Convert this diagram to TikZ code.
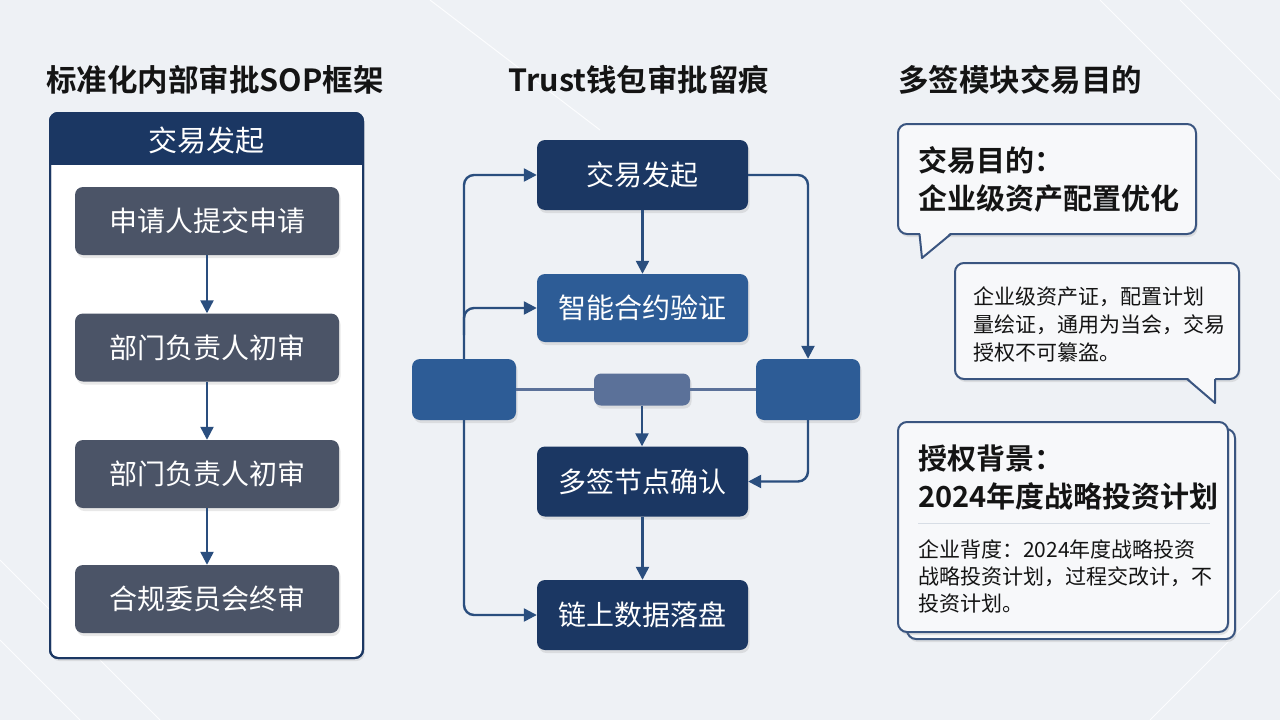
\documentclass[tikz,border=0pt]{standalone}
\usepackage{fontspec}
\setmainfont{Noto Sans CJK SC}[BoldFont={Noto Sans CJK SC Bold}]
\usetikzlibrary{arrows.meta,calc,shadows}
\definecolor{bg}{HTML}{EEF1F5}
\definecolor{navy}{HTML}{1B3763}
\definecolor{mblue}{HTML}{2D5C96}
\definecolor{gbox}{HTML}{4B5467}
\definecolor{lnk}{HTML}{2A4E7E}
\definecolor{sgray}{HTML}{5B7199}
\definecolor{ink}{HTML}{141414}
\definecolor{cborder}{HTML}{3A5580}
\definecolor{cfill}{HTML}{F7F8FA}
\begin{document}
\begin{tikzpicture}[x=1pt,y=-1pt,
  softshadow/.style={drop shadow={opacity=0.18,shadow xshift=1.5pt,shadow yshift=-3pt}},
  flowbox/.style={rounded corners=8pt,text=white,inner sep=0pt,font=\fontsize{28}{32}\selectfont,softshadow},
  graybox/.style={flowbox,fill=gbox,minimum width=264pt,minimum height=68pt},
  navybox/.style={flowbox,fill=navy,minimum width=211pt,minimum height=70pt},
  bluebox/.style={flowbox,fill=mblue,minimum width=211pt,minimum height=68pt},
  blankbox/.style={rounded corners=8pt,fill=mblue,minimum width=104pt,minimum height=61pt,inner sep=0pt,softshadow},
  link/.style={draw=lnk,line width=2.4pt},
  arr/.style={link,-{Triangle[length=13pt,width=13pt]},rounded corners=10pt},
  title/.style={font=\bfseries\fontsize{30.5}{34}\selectfont,text=ink,inner sep=0pt},
  calloutbox/.style={draw=cborder,line width=2pt,fill=cfill,rounded corners=9pt,inner sep=0pt,softshadow},
  bigtxt/.style={font=\bfseries\fontsize{29}{38}\selectfont,text=ink,align=left,anchor=west,inner sep=0pt},
  smalltxt/.style={font=\fontsize{21}{28}\selectfont,text=ink,align=left,anchor=west,inner sep=0pt}
]
\useasboundingbox (0,0) rectangle (1280,720);
\fill[bg] (0,0) rectangle (1280,720);
% faint background pattern
\begin{scope}[draw=white!85!bg,line width=1pt]
  \draw (0,560) -- (160,720) (0,640) -- (80,720) (1100,0) -- (1280,180) (1180,0) -- (1280,100)
        (1150,720) -- (1280,590) (430,0) -- (600,130);
\end{scope}

% ===== Titles =====
\node[title] (t1) at (215,80) {标准化内部审批SOP框架};
\node[title] (t2) at (639,80) {Trust钱包审批留痕};
\node[title,anchor=west] (t3) at (898,80) {多签模块交易目的};

% ===== Left panel =====
\node[draw=navy,line width=2pt,fill=white,rounded corners=8pt,minimum width=313pt,minimum height=545pt,inner sep=0pt,softshadow] (lpanel) at (206.5,385.5) {};
\begin{scope}
  \clip[rounded corners=8pt] (50,113) rectangle (363,658);
  \fill[navy] (50,113) rectangle (363,165);
\end{scope}
\draw[navy,line width=2pt,rounded corners=8pt] (50,113) rectangle (363,658);
\node[text=white,font=\fontsize{29}{32}\selectfont,inner sep=0pt] (lhead) at (206.5,140) {交易发起};

\node[graybox] (g1) at (207,221) {申请人提交申请};
\node[graybox] (g2) at (207,347.5) {部门负责人初审};
\node[graybox] (g3) at (207,474) {部门负责人初审};
\node[graybox] (g4) at (207,599) {合规委员会终审};
\draw[arr] (g1.south) -- (g2.north);
\draw[arr] (g2.south) -- (g3.north);
\draw[arr] (g3.south) -- (g4.north);

% ===== Middle flow =====
\node[navybox] (m1) at (642.5,175) {交易发起};
\node[bluebox] (m2) at (642.5,308) {智能合约验证};
\node[blankbox] (lb) at (464,389.5) {};
\node[blankbox] (rb) at (808,389.5) {};
\node[rounded corners=7pt,fill=sgray,minimum width=96pt,minimum height=32pt,inner sep=0pt,softshadow] (sm) at (642,389.5) {};
\node[navybox] (m3) at (642.5,481.5) {多签节点确认};
\node[navybox] (m4) at (642.5,615) {链上数据落盘};

\draw[link,draw=sgray] (lb.east) -- (sm.west);
\draw[link,draw=sgray] (sm.east) -- (rb.west);
\draw[arr] (m1.south) -- (m2.north);
\draw[arr] (sm.south) -- (sm.south |- m3.north);
\draw[arr] (m3.south) -- (m4.north);
\draw[arr] (lb.north) |- (m1.west);
\coordinate (br) at (464,335);
\draw[arr] (br) |- (m2.west);
\draw[arr] (lb.south) |- (m4.west);
\draw[arr] (m1.east) -| (rb.north);
\draw[arr] (rb.south) |- (m3.east);

% ===== Right column =====
% callout 1
\node[calloutbox,minimum width=298pt,minimum height=110pt] (c1) at (1047,179) {};
\fill[cfill] (920,232) -- (922,258) -- (951,232) -- cycle;
\draw[cborder,line width=2pt,line join=round] (919.5,234) -- (922,258) -- (951,234);
\node[bigtxt] (c1t) at (918,179) {交易目的：\\企业级资产配置优化};

% callout 2
\node[calloutbox,minimum width=284pt,minimum height=116pt] (c2) at (1097,321) {};
\fill[cfill] (1187,377) -- (1215,403) -- (1215,377) -- cycle;
\draw[cborder,line width=2pt,line join=round] (1187,379) -- (1215,403) -- (1215,379);
\node[smalltxt] (c2t) at (973,324) {企业级资产证，配置计划\\量绘证，通用为当会，交易\\授权不可纂盗。};

% card 3
\node[calloutbox,minimum width=328pt,minimum height=210pt] (c3b) at (1071,534) {};
\node[calloutbox,minimum width=330pt,minimum height=210pt] (c3) at (1063,527) {};
\draw[white!80!cborder,line width=0.8pt] (918,523) -- (1210,523);
\node[bigtxt] (c3t) at (918,478) {授权背景：\\2024年度战略投资计划};
\node[smalltxt,font=\fontsize{21}{27}\selectfont] (c3x) at (918,576) {企业背度：2024年度战略投资\\战略投资计划，过程交改计，不\\投资计划。};
\end{tikzpicture}
\end{document}
